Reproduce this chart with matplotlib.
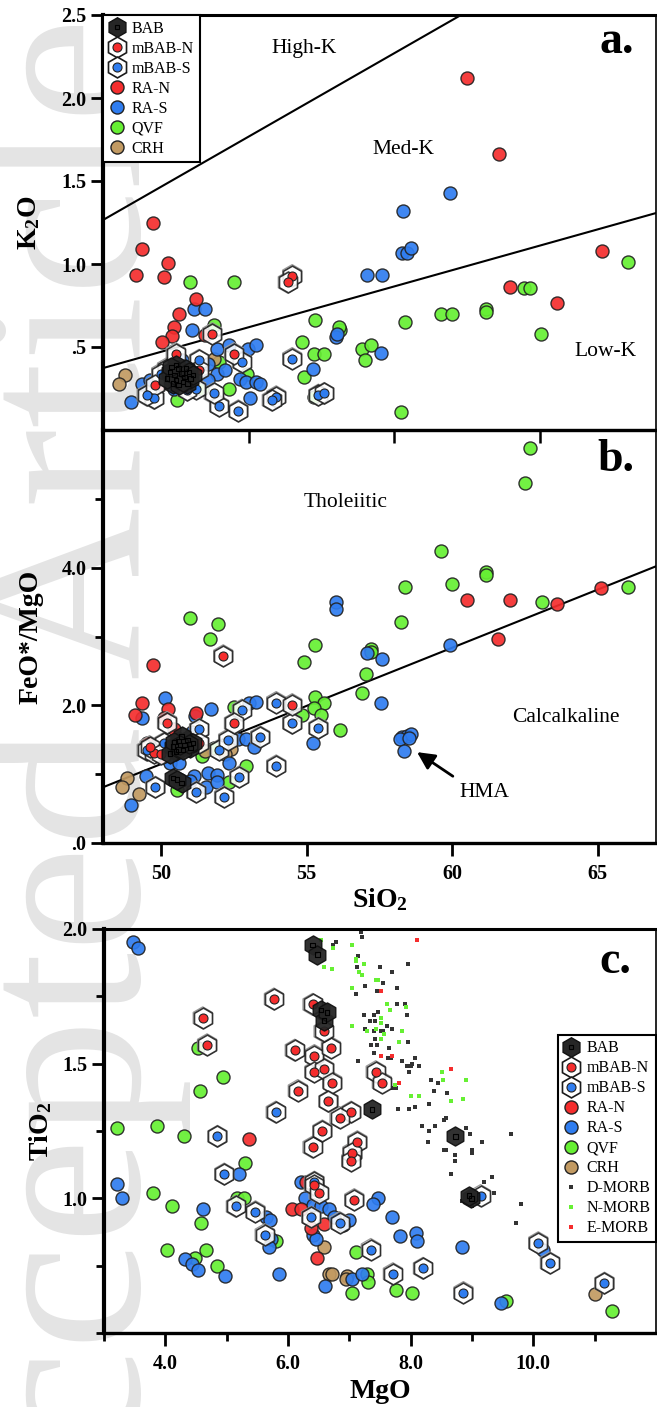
#!/usr/bin/env python3
"""Three-panel geochemistry plot: K2O and FeO*/MgO vs SiO2, TiO2 vs MgO."""

import matplotlib
matplotlib.use("Agg")
import matplotlib.pyplot as plt
from matplotlib.lines import Line2D
from matplotlib.ticker import FixedLocator
from matplotlib.legend_handler import HandlerTuple

plt.rcParams.update({
    "font.family": "Liberation Serif",
    "mathtext.default": "regular",
})

RED = "#f52d2d"
BLUE = "#2f7df0"
GREEN = "#66f033"
TAN = "#c29a62"
EDGE = "#222222"
BAB_FILL = "#262626"

# ---------------- panel a: SiO2 vs K2O ----------------
A_BAB = [(50.3, 0.35), (50.5, 0.30), (50.6, 0.37), (50.8, 0.32), (50.4, 0.28), (50.9, 0.28),
         (50.7, 0.34), (51.0, 0.31), (50.5, 0.39), (50.2, 0.31), (50.6, 0.27), (50.85, 0.37),
         (50.45, 0.33), (50.75, 0.29), (50.95, 0.35), (50.35, 0.38), (51.1, 0.33)]
A_MBAB_N = [(54.5, 0.93), (54.35, 0.89), (50.5, 0.46), (51.75, 0.58), (52.5, 0.46), (49.8, 0.27),
            (51.3, 0.36)]
A_MBAB_S = [(54.5, 0.43), (53.95, 0.20), (53.8, 0.18), (51.99, 0.145), (52.65, 0.115), (52.77, 0.41),
            (49.76, 0.19), (49.5, 0.21), (55.4, 0.21), (55.6, 0.22), (51.8, 0.22), (51.3, 0.42),
            (51.2, 0.25), (50.9, 0.24), (50.2, 0.37), (50.0, 0.34)]
A_RA_N = [(60.52, 2.12), (61.6, 1.66), (65.14, 1.08), (62.0, 0.86), (63.6, 0.765), (49.73, 1.247),
          (49.35, 1.09), (50.24, 1.006), (49.14, 0.934), (50.1, 0.92), (51.2, 0.79), (50.6, 0.70),
          (50.45, 0.62), (50.38, 0.566), (50.03, 0.53), (49.93, 0.27), (51.5, 0.57)]
A_RA_S = [(58.27, 1.066), (58.45, 1.066), (58.58, 1.096), (57.07, 0.934), (57.59, 0.934), (56.0, 0.56),
          (56.05, 0.58), (57.56, 0.463), (59.92, 1.43), (58.3, 1.32), (51.13, 0.73), (51.5, 0.73),
          (51.05, 0.60), (51.9, 0.49), (52.33, 0.51), (52.99, 0.49), (53.26, 0.51), (51.6, 0.40),
          (55.2, 0.37), (49.35, 0.28), (48.97, 0.17), (50.45, 0.25), (51.93, 0.34), (52.7, 0.31),
          (52.9, 0.29), (53.26, 0.29), (53.4, 0.28), (53.05, 0.19), (50.7, 0.42), (51.6, 0.30),
          (52.2, 0.36), (49.6, 0.30)]
A_QVF = [(50.99, 0.89), (52.5, 0.89), (51.8, 0.63), (55.3, 0.66), (54.85, 0.53), (55.25, 0.46),
         (55.6, 0.46), (54.9, 0.32), (55.25, 0.20), (50.55, 0.18), (51.4, 0.25), (52.33, 0.25),
         (52.96, 0.34), (52.0, 0.41), (56.15, 0.60), (56.9, 0.49), (57.2, 0.51), (57.0, 0.42),
         (58.38, 0.65), (59.6, 0.70), (60.0, 0.70), (61.15, 0.73), (61.15, 0.71), (62.46, 0.855),
         (62.67, 0.855), (66.03, 1.01), (63.05, 0.58), (58.24, 0.11), (56.1, 0.62)]
A_CRH = [(48.76, 0.33), (48.56, 0.28), (51.8, 0.43)]

# boundary lines (SiO2, K2O)
A_LINE_HIGH = [(48.0, 1.265), (60.3, 2.5)]
A_LINE_LOW = [(48.0, 0.373), (67.0, 1.307)]

# ---------------- panel b: SiO2 vs FeO*/MgO ----------------
B_BAB = [(50.4, 1.40), (50.6, 1.48), (50.8, 1.42), (50.5, 1.33), (50.9, 1.50), (51.0, 1.38),
         (50.7, 1.55), (50.3, 1.30), (51.1, 1.45), (50.6, 1.36), (50.4, 0.94), (50.7, 0.87),
         (50.55, 0.92), (50.75, 1.35), (50.45, 1.47), (50.95, 1.44), (50.65, 1.42)]
B_MBAB_N = [(52.13, 2.72), (54.5, 2.01), (52.5, 1.74), (49.76, 1.31), (49.6, 1.40), (50.2, 1.75),
            (51.3, 1.45), (50.0, 1.30)]
B_MBAB_S = [(52.77, 1.93), (53.95, 2.04), (54.5, 1.74), (55.4, 1.67), (53.95, 1.12), (53.4, 1.54),
            (52.68, 0.96), (52.16, 0.67), (49.8, 0.81), (51.2, 0.74), (52.0, 1.35), (51.3, 1.65),
            (50.1, 1.45), (49.5, 1.35), (52.3, 1.50)]
B_RA_N = [(60.5, 3.53), (62.0, 3.53), (63.6, 3.47), (65.1, 3.71), (61.57, 2.97), (49.73, 2.58),
          (49.35, 2.03), (50.24, 1.95), (49.1, 1.86), (50.1, 1.82), (51.2, 1.89), (50.45, 1.65),
          (49.66, 1.31), (50.03, 1.25), (49.5, 1.45)]
B_RA_S = [(56.0, 3.50), (56.0, 3.40), (59.92, 2.88), (57.07, 2.76), (57.59, 2.67), (57.56, 2.03),
          (58.27, 1.54), (58.44, 1.56), (58.58, 1.58), (58.2, 1.51), (58.34, 1.34), (58.5, 1.52),
          (50.14, 2.11), (49.35, 1.82), (51.72, 1.95), (51.17, 1.85), (53.02, 2.03), (53.26, 2.05),
          (55.2, 1.45), (52.65, 1.51), (52.9, 1.51), (53.2, 1.40), (52.33, 1.16), (48.97, 0.55),
          (49.48, 0.97), (50.3, 1.16), (51.13, 0.97), (51.54, 0.81), (51.6, 1.02), (51.93, 0.99),
          (51.93, 0.89), (51.06, 1.61), (51.0, 1.52), (50.62, 1.16), (51.0, 0.90)]
B_QVF = [(62.67, 5.74), (62.5, 5.23), (59.6, 4.24), (61.16, 3.94), (61.16, 3.89), (60.0, 3.76),
         (58.38, 3.72), (63.08, 3.50), (66.03, 3.72), (58.24, 3.21), (57.2, 2.82), (57.2, 2.78),
         (57.04, 2.46), (56.9, 2.18), (56.15, 1.64), (54.9, 2.63), (55.29, 2.88), (52.5, 1.98),
         (55.29, 2.12), (55.6, 2.03), (55.25, 1.96), (54.85, 1.86), (55.5, 1.86), (51.8, 1.38),
         (51.4, 1.26), (52.9, 1.12), (52.33, 0.89), (50.55, 0.77), (51.0, 3.27), (51.96, 3.18),
         (51.68, 2.96)]
B_CRH = [(52.4, 1.37), (52.2, 1.29), (48.84, 0.94), (48.66, 0.81), (49.25, 0.71), (51.5, 1.33)]

B_LINE = [(48.0, 0.81), (67.0, 4.02)]

# ---------------- panel c: MgO vs TiO2 ----------------
C_BAB = [(6.40, 1.94), (6.48, 1.905), (6.54, 1.70), (6.59, 1.66), (6.64, 1.69), (7.37, 1.33),
         (8.73, 1.23), (8.99, 1.00), (8.95, 1.01)]
C_MBAB_N = [(5.77, 1.74), (4.61, 1.67), (4.68, 1.57), (6.40, 1.72), (6.11, 1.55), (6.43, 1.53),
            (6.43, 1.47), (6.59, 1.48), (6.16, 1.40), (6.40, 1.19), (6.56, 1.25), (7.43, 1.47),
            (7.53, 1.43), (7.03, 1.32), (6.84, 1.30), (7.13, 1.21), (6.72, 1.43), (6.70, 1.56),
            (7.05, 1.17), (7.03, 1.14), (7.08, 0.995), (6.42, 1.05), (6.50, 1.02), (6.58, 1.62),
            (6.66, 1.36)]
C_MBAB_S = [(5.80, 1.32), (4.85, 1.23), (4.96, 1.09), (5.15, 0.97), (5.47, 0.95), (5.62, 0.865),
            (6.43, 1.06), (6.38, 0.93), (6.84, 0.91), (7.35, 0.81), (8.2, 0.74), (7.71, 0.72),
            (8.86, 0.65), (10.08, 0.835), (10.27, 0.76), (11.16, 0.685), (9.14, 1.01)]
C_RA_N = [(5.36, 1.22), (6.3, 1.06), (6.07, 0.96), (6.22, 0.96), (6.59, 0.905), (6.38, 0.89),
          (6.48, 0.78)]
C_RA_S = [(3.47, 1.953), (3.56, 1.93), (3.22, 1.055), (3.29, 1.0), (4.61, 0.96), (5.2, 1.09),
          (5.64, 0.93), (5.71, 0.92), (5.73, 0.85), (5.69, 0.82), (4.32, 0.775), (4.43, 0.755),
          (4.54, 0.735), (4.97, 0.71), (5.86, 0.72), (6.22, 1.06), (6.28, 1.00), (6.4, 0.975),
          (6.53, 0.97), (6.67, 0.96), (6.4, 0.865), (6.46, 0.85), (6.61, 0.675), (7.47, 1.00),
          (7.39, 0.98), (7.0, 0.92), (7.7, 0.93), (7.83, 0.86), (8.09, 0.87), (8.1, 0.84),
          (8.83, 0.82), (7.05, 0.70), (7.21, 0.72), (9.48, 0.61), (10.16, 0.81), (6.75, 0.93),
          (6.9, 0.90)]
C_QVF = [(4.54, 1.56), (4.94, 1.45), (4.56, 1.40), (3.22, 1.26), (3.87, 1.27), (4.31, 1.23),
         (3.8, 1.02), (4.11, 0.97), (4.58, 0.91), (5.3, 1.13), (5.17, 1.0), (5.28, 1.0),
         (5.8, 0.84), (4.03, 0.81), (4.49, 0.78), (4.66, 0.81), (4.85, 0.75), (7.11, 0.80),
         (7.29, 0.72), (7.31, 0.69), (7.05, 0.65), (7.76, 0.66), (8.02, 0.65), (9.56, 0.62),
         (11.29, 0.58)]
C_CRH = [(6.59, 0.82), (6.67, 0.72), (6.72, 0.72), (6.97, 0.71), (6.95, 0.70), (11.0, 0.645)]

D_MORB = [(7.01, 2.0), (7.19, 1.99), (7.21, 1.97), (6.79, 1.95), (6.74, 1.94), (7.14, 1.90),
          (7.13, 1.86), (7.5, 1.86), (7.95, 1.87), (7.7, 1.84), (7.55, 1.80), (7.26, 1.79),
          (7.11, 1.76), (7.45, 1.77), (7.78, 1.78), (7.78, 1.72), (7.9, 1.72), (7.94, 1.68),
          (7.47, 1.69), (7.24, 1.68), (7.4, 1.68), (7.34, 1.66), (7.42, 1.66), (7.61, 1.64),
          (7.7, 1.63), (7.26, 1.63), (7.4, 1.62), (7.52, 1.62), (7.55, 1.62), (7.42, 1.59),
          (7.45, 1.57), (7.35, 1.57), (7.95, 1.58), (7.65, 1.56), (7.4, 1.54), (7.14, 1.51),
          (7.63, 1.52), (7.68, 1.52), (7.86, 1.51), (8.07, 1.52), (8.02, 1.50), (7.94, 1.49),
          (8.0, 1.49), (8.13, 1.49), (7.97, 1.47), (8.33, 1.44), (8.44, 1.43), (7.76, 1.41),
          (7.7, 1.41), (8.38, 1.40), (8.6, 1.39), (8.3, 1.35), (8.07, 1.34), (7.97, 1.33),
          (7.79, 1.33), (8.57, 1.30), (8.54, 1.29), (8.39, 1.27), (8.18, 1.27), (8.3, 1.25),
          (8.91, 1.26), (8.96, 1.24), (9.64, 1.24), (9.17, 1.21), (8.28, 1.21), (8.55, 1.18),
          (9.0, 1.18), (8.73, 1.16), (8.73, 1.14), (8.65, 1.09), (9.32, 1.08), (9.2, 1.06),
          (8.83, 0.99), (9.0, 0.97), (9.36, 1.02), (9.8, 0.98), (9.72, 0.91), (8.57, 1.18),
          (9.0, 1.17)]
N_MORB = [(6.87, 2.0), (6.74, 1.93), (7.05, 1.94), (7.11, 1.89), (7.11, 1.88), (7.24, 1.87),
          (6.72, 1.85), (7.16, 1.84), (7.21, 1.83), (7.44, 1.81), (7.47, 1.81), (7.05, 1.78),
          (7.61, 1.72), (7.66, 1.70), (7.92, 1.71), (7.52, 1.67), (7.52, 1.65), (7.05, 1.64),
          (7.29, 1.62), (7.44, 1.63), (7.57, 1.61), (7.86, 1.62), (7.52, 1.59), (7.81, 1.58),
          (8.51, 1.47), (8.9, 1.44), (8.52, 1.44), (7.74, 1.42), (8.0, 1.38), (8.13, 1.38),
          (8.65, 1.36), (8.86, 1.37), (6.54, 1.96), (6.59, 1.86)]
E_MORB = [(8.1, 1.96), (7.52, 1.77), (7.52, 1.53), (7.7, 1.53), (8.65, 1.48), (7.81, 1.43)]

CIRCLE_S = 88
HEX_S = 225
INNER_S = 42
BAB_S = 190
SQ_S = 8


def xy(pts):
    return [p[0] for p in pts], [p[1] for p in pts]


def circles(ax, pts, color, z=3):
    x, y = xy(pts)
    ax.scatter(x, y, s=CIRCLE_S, c=color, edgecolors=EDGE, linewidths=1.0, alpha=0.92, zorder=z)


def mbab(ax, pts, color, z=4):
    x, y = xy(pts)
    ax.scatter(x, y, s=HEX_S * 1.12, marker="h", facecolors="none", edgecolors="#9a9a9a",
               linewidths=0.9, zorder=z - 0.05)
    ax.scatter(x, y, s=HEX_S, marker="h", facecolors="white", edgecolors="#1a1a1a",
               linewidths=1.2, alpha=0.88, zorder=z)
    ax.scatter(x, y, s=INNER_S, c=color, edgecolors=EDGE, linewidths=0.8, zorder=z + 0.05)


def bab(ax, pts, z=5):
    x, y = xy(pts)
    ax.scatter(x, y, s=BAB_S, marker="h", facecolors=BAB_FILL, edgecolors="#111111",
               linewidths=1.0, alpha=0.95, zorder=z)
    ax.scatter(x, y, s=10, marker="s", facecolors="none", edgecolors="black",
               linewidths=0.8, zorder=z + 0.05)


def draw_samples(ax, grp):
    circles(ax, grp["QVF"], GREEN)
    circles(ax, grp["CRH"], TAN)
    circles(ax, grp["RA-S"], BLUE)
    circles(ax, grp["RA-N"], RED)
    mbab(ax, grp["mBAB-S"], BLUE)
    mbab(ax, grp["mBAB-N"], RED)
    bab(ax, grp["BAB"])


def legend_handles(with_morb=False):
    circ = dict(marker="o", ls="none", markersize=9.4, markeredgecolor=EDGE, markeredgewidth=1.0)
    hexo = Line2D([], [], marker="h", ls="none", markersize=15, markerfacecolor="white",
                  markeredgecolor="#1a1a1a", markeredgewidth=1.2)
    h_bab = (Line2D([], [], marker="h", ls="none", markersize=14, markerfacecolor=BAB_FILL,
                    markeredgecolor="#111111"),
             Line2D([], [], marker="s", ls="none", markersize=3.3, markerfacecolor="none",
                    markeredgecolor="black", markeredgewidth=0.8))
    inner = dict(marker="o", ls="none", markersize=6.5, markeredgecolor=EDGE, markeredgewidth=0.8)
    handles = [
        h_bab,
        (hexo, Line2D([], [], markerfacecolor=RED, **inner)),
        (hexo, Line2D([], [], markerfacecolor=BLUE, **inner)),
        Line2D([], [], markerfacecolor=RED, **circ),
        Line2D([], [], markerfacecolor=BLUE, **circ),
        Line2D([], [], markerfacecolor=GREEN, **circ),
        Line2D([], [], markerfacecolor=TAN, **circ),
    ]
    labels = ["BAB", "mBAB-N", "mBAB-S", "RA-N", "RA-S", "QVF", "CRH"]
    if with_morb:
        sq = dict(marker="s", ls="none", markersize=3.3, markeredgewidth=0)
        handles += [Line2D([], [], markerfacecolor="#333333", **sq),
                    Line2D([], [], markerfacecolor=GREEN, **sq),
                    Line2D([], [], markerfacecolor=RED, **sq)]
        labels += ["D-MORB", "N-MORB", "E-MORB"]
    return handles, labels


def style_axes(ax):
    ax.set_facecolor("none")
    ax.spines["left"].set_linewidth(3.0)
    ax.spines["bottom"].set_linewidth(2.4)
    ax.spines["top"].set_linewidth(2.2)
    ax.spines["right"].set_linewidth(1.2)
    ax.tick_params(which="both", direction="out", width=2.0, colors="black")
    ax.tick_params(which="major", length=9, labelsize=14.5, pad=3)
    ax.tick_params(which="minor", length=6)
    for lab in ax.get_xticklabels() + ax.get_yticklabels():
        lab.set_fontweight("bold")


def put_legend(ax, with_morb, **kw):
    h, l = legend_handles(with_morb)
    leg = ax.legend(h, l, handler_map={tuple: HandlerTuple(ndivide=1)}, fontsize=11.5,
                    frameon=True, fancybox=False, edgecolor="black", framealpha=1,
                    handlelength=1.0, handletextpad=0.45, labelspacing=0.25,
                    borderpad=0.35, borderaxespad=0, **kw)
    leg.get_frame().set_linewidth(1.5)
    leg.set_zorder(10)


def main():
    fig = plt.figure(figsize=(6.57, 14.07), dpi=100)
    fig.patch.set_facecolor("white")

    # journal watermark behind everything
    fig.text(140 / 657, 1 - 822 / 1407, "Accepted Article", rotation=90, rotation_mode="anchor",
             ha="center", va="baseline", fontsize=172, color="#e4e4e4", zorder=-1)

    ax_a = fig.add_axes([103 / 657, 1 - 430 / 1407, 553 / 657, 415 / 1407])
    ax_b = fig.add_axes([103 / 657, 1 - 843 / 1407, 553 / 657, 413 / 1407])
    ax_c = fig.add_axes([104 / 657, 1 - 1333 / 1407, 552 / 657, 404 / 1407])

    # ---- a ----
    for line in (A_LINE_HIGH, A_LINE_LOW):
        lx, ly = xy(line)
        ax_a.plot(lx, ly, color="black", lw=1.5, zorder=2)
    draw_samples(ax_a, {"BAB": A_BAB, "mBAB-N": A_MBAB_N, "mBAB-S": A_MBAB_S, "RA-N": A_RA_N,
                        "RA-S": A_RA_S, "QVF": A_QVF, "CRH": A_CRH})
    ax_a.set_xlim(48, 67)
    ax_a.set_ylim(0, 2.5)
    ax_a.set_xticks([])
    ax_a.set_yticks([0.5, 1.0, 1.5, 2.0, 2.5])
    ax_a.set_yticklabels([".5", "1.0", "1.5", "2.0", "2.5"])
    style_axes(ax_a)
    ax_a.set_ylabel("K$_2$O", fontsize=20, fontweight="bold")
    ax_a.yaxis.set_label_coords(-0.11, 0.5)
    ax_a.text(54.91, 2.30, "High-K", fontsize=15.5, ha="center", va="center")
    ax_a.text(58.31, 1.687, "Med-K", fontsize=15.5, ha="center", va="center")
    ax_a.text(65.28, 0.47, "Low-K", fontsize=15.5, ha="center", va="center")
    ax_a.text(0.96, 0.908, "a.", transform=ax_a.transAxes, fontsize=33, fontweight="bold",
              ha="right", va="baseline")
    put_legend(ax_a, False, loc="upper left", bbox_to_anchor=(0.0, 1.0))

    # ---- b ----
    lx, ly = xy(B_LINE)
    ax_b.plot(lx, ly, color="black", lw=1.5, zorder=2)
    draw_samples(ax_b, {"BAB": B_BAB, "mBAB-N": B_MBAB_N, "mBAB-S": B_MBAB_S, "RA-N": B_RA_N,
                        "RA-S": B_RA_S, "QVF": B_QVF, "CRH": B_CRH})
    ax_b.set_xlim(48, 67)
    ax_b.set_ylim(0, 6)
    ax_b.set_xticks([50, 55, 60, 65])
    ax_b.set_xticklabels(["50", "55", "60", "65"])
    ax_b.xaxis.set_minor_locator(FixedLocator([53, 58, 63]))
    ax_b.set_yticks([0, 2, 4])
    ax_b.set_yticklabels([".0", "2.0", "4.0"])
    ax_b.yaxis.set_minor_locator(FixedLocator([1, 3, 5]))
    style_axes(ax_b)
    ax_b.tick_params(axis="x", which="minor", bottom=False, top=True, direction="in",
                     length=9, width=1.8)
    ax_b.tick_params(axis="x", which="major", length=9, pad=6)
    ax_b.set_ylabel("FeO*/MgO", fontsize=20, fontweight="bold")
    ax_b.yaxis.set_label_coords(-0.108, 0.5)
    ax_b.set_xlabel("SiO$_2$", fontsize=20, fontweight="bold")
    ax_b.xaxis.set_label_coords(0.5, -0.105)
    ax_b.text(56.35, 4.94, "Tholeiitic", fontsize=15.5, ha="center", va="center")
    ax_b.text(63.9, 1.83, "Calcalkaline", fontsize=15.5, ha="center", va="center")
    ax_b.annotate("", xy=(58.79, 1.32), xytext=(60.02, 0.97),
                  arrowprops=dict(arrowstyle="-|>,head_length=0.7,head_width=0.35",
                                  color="black", lw=2.0, mutation_scale=15,
                                  shrinkA=0, shrinkB=0), zorder=6)
    ax_b.text(61.09, 0.727, "HMA", fontsize=15.5, ha="center", va="center")
    ax_b.text(0.96, 0.90, "b.", transform=ax_b.transAxes, fontsize=33, fontweight="bold",
              ha="right", va="baseline")

    # ---- c ----
    for pts, col in ((D_MORB, "#333333"), (N_MORB, GREEN), (E_MORB, RED)):
        x, y = xy(pts)
        ax_c.scatter(x, y, s=SQ_S, marker="s", c=col, linewidths=0, zorder=2.5)
    draw_samples(ax_c, {"BAB": C_BAB, "mBAB-N": C_MBAB_N, "mBAB-S": C_MBAB_S, "RA-N": C_RA_N,
                        "RA-S": C_RA_S, "QVF": C_QVF, "CRH": C_CRH})
    ax_c.set_xlim(3, 12)
    ax_c.set_ylim(0.5, 2.0)
    ax_c.set_xticks([4, 6, 8, 10])
    ax_c.set_xticklabels(["4.0", "6.0", "8.0", "10.0"])
    ax_c.xaxis.set_minor_locator(FixedLocator([3, 5, 7, 9, 11]))
    ax_c.set_yticks([1.0, 1.5, 2.0])
    ax_c.set_yticklabels(["1.0", "1.5", "2.0"])
    ax_c.yaxis.set_minor_locator(FixedLocator([0.5, 0.75, 1.25, 1.75]))
    style_axes(ax_c)
    ax_c.tick_params(axis="x", which="major", pad=6)
    ax_c.set_ylabel("TiO$_2$", fontsize=20, fontweight="bold")
    ax_c.yaxis.set_label_coords(-0.09, 0.5)
    ax_c.set_xlabel("MgO", fontsize=20, fontweight="bold")
    ax_c.xaxis.set_label_coords(0.5, -0.115)
    ax_c.text(0.955, 0.891, "c.", transform=ax_c.transAxes, fontsize=33, fontweight="bold",
              ha="right", va="baseline")
    put_legend(ax_c, True, loc="upper right", bbox_to_anchor=(1.0, 0.738))

    fig.savefig("out.png", dpi=100, facecolor="white")
    plt.close(fig)


if __name__ == "__main__":
    main()
